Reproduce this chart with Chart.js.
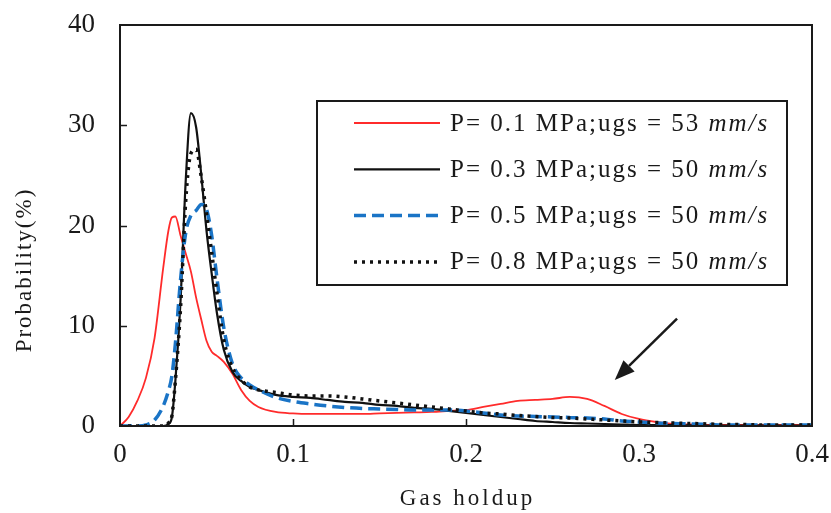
<!DOCTYPE html>
<html>
<head>
<meta charset="utf-8">
<script src="https://cdn.jsdelivr.net/npm/chart.js@4.4.1/dist/chart.umd.min.js"></script>
<style>
  html, body { margin: 0; padding: 0; background: #fff; }
  canvas { display: block; }
</style>
</head>
<body>
<canvas id="pdf" width="831" height="513"></canvas>
<script>
// Gas holdup grid (x) shared by all four distributions
const holdup = [0, 0.005, 0.01, 0.015, 0.02, 0.025, 0.028, 0.03, 0.032, 0.035, 0.038, 0.041, 0.044,
  0.047, 0.05, 0.053, 0.056, 0.06, 0.065, 0.07, 0.075, 0.08, 0.09, 0.1, 0.11, 0.12, 0.13, 0.14,
  0.15, 0.16, 0.17, 0.18, 0.19, 0.2, 0.21, 0.22, 0.23, 0.24, 0.25, 0.26, 0.27, 0.28, 0.29, 0.3,
  0.31, 0.32, 0.33, 0.34, 0.35, 0.36, 0.37, 0.38, 0.39, 0.4];

// Probability (%) for each operating pressure
const prob01 = [0, 0.9, 2.5, 4.8, 8.8, 15.8, 19.5, 20.8, 20.9, 19.0, 17.2, 15.4, 12.8,
  10.6, 8.5, 7.4, 7.0, 6.4, 5.2, 3.6, 2.5, 1.9, 1.4, 1.25, 1.2, 1.2, 1.2, 1.2,
  1.25, 1.3, 1.35, 1.4, 1.5, 1.6, 1.9, 2.2, 2.5, 2.6, 2.7, 2.9, 2.7, 2.0, 1.2, 0.7,
  0.4, 0.2, 0.15, 0.1, 0.1, 0.1, 0.1, 0.1, 0.1, 0.1];
const prob03 = [0, 0, 0, 0, 0, 0, 0.2, 0.9, 4.5, 12.5, 24.5, 31.2, 29.8,
  25.0, 19.5, 15.2, 11.3, 7.6, 5.4, 4.5, 3.9, 3.6, 3.1, 2.9, 2.8, 2.6, 2.4, 2.3,
  2.1, 2.0, 1.8, 1.7, 1.5, 1.3, 1.1, 0.9, 0.7, 0.5, 0.4, 0.3, 0.25, 0.2, 0.15, 0.1,
  0.1, 0.08, 0.06, 0.05, 0.05, 0.05, 0.05, 0.05, 0.05, 0.05];
const prob05 = [0, 0, 0, 0.1, 0.6, 2.0, 3.5, 5.0, 8.2, 14.6, 19.3, 21.0, 21.5,
  22.1, 21.6, 19.0, 14.8, 9.8, 6.2, 4.8, 4.1, 3.6, 2.85, 2.45, 2.2, 2.0, 1.85, 1.75,
  1.7, 1.65, 1.6, 1.6, 1.6, 1.5, 1.3, 1.1, 1.0, 0.95, 0.9, 0.85, 0.8, 0.7, 0.5, 0.4,
  0.3, 0.25, 0.2, 0.15, 0.1, 0.1, 0.1, 0.1, 0.1, 0.1];
const prob08 = [0, 0, 0, 0, 0, 0, 0.3, 1.0, 4.5, 11.8, 22.5, 27.2, 27.6,
  24.8, 21.2, 17.3, 13.3, 8.6, 5.8, 4.6, 3.9, 3.6, 3.35, 3.1, 3.0, 3.0, 2.9, 2.7,
  2.5, 2.3, 2.1, 1.9, 1.7, 1.5, 1.3, 1.2, 1.05, 0.95, 0.85, 0.8, 0.7, 0.6, 0.5, 0.4,
  0.35, 0.3, 0.25, 0.2, 0.15, 0.15, 0.1, 0.1, 0.1, 0.1];

const seriesNames = ['P= 0.1 MPa;ugs = 53 ', 'P= 0.3 MPa;ugs = 50 ', 'P= 0.5 MPa;ugs = 50 ', 'P= 0.8 MPa;ugs = 50 '];
const seriesUnit = 'mm/s';

const xTickValues = [0, 0.1, 0.2, 0.3, 0.4];
const yTickValues = [0, 10, 20, 30, 40];

const xTitle = 'Gas holdup';
const yTitle = 'Probability(%)';

// Arrow pointing at the secondary peak, in data units
const arrowTail = { x: 0.322, y: 10.7 };
const arrowHead = { x: 0.286, y: 4.6 };

const SERIF = '"Liberation Serif", "Times New Roman", serif';
const INK = '#1a1a1a';

const toPoints = (ys) => holdup.map((x, i) => ({ x, y: ys[i] }));

const styles = [
  { borderColor: '#ff2b2b', borderWidth: 1.8, borderDash: [], order: 3 },
  { borderColor: '#111111', borderWidth: 2.2, borderDash: [], order: 2 },
  { borderColor: '#1a74c6', borderWidth: 3.5, borderDash: [12, 6], order: 1 },
  { borderColor: '#111111', borderWidth: 3.5, borderDash: [3, 5], order: 0 }
];
const values = [prob01, prob03, prob05, prob08];

const datasets = values.map((ys, i) => ({
  label: seriesNames[i] + seriesUnit,
  data: toPoints(ys),
  borderColor: styles[i].borderColor,
  borderWidth: styles[i].borderWidth,
  borderDash: styles[i].borderDash,
  order: styles[i].order,
  pointRadius: 0,
  fill: false,
  cubicInterpolationMode: 'monotone'
}));

// Frame, inward tick marks, axis titles, legend box and arrow
const decorations = {
  id: 'decorations',
  afterDatasetsDraw(chart) {
    const { ctx, chartArea: a, scales: { x, y } } = chart;
    ctx.save();
    ctx.strokeStyle = INK;
    ctx.lineWidth = 2;
    ctx.strokeRect(a.left, a.top, a.right - a.left, a.bottom - a.top);
    ctx.beginPath();
    yTickValues.slice(1, -1).forEach(v => {
      const py = Math.round(y.getPixelForValue(v)) + 0.5;
      ctx.moveTo(a.left, py); ctx.lineTo(a.left + 7, py);
    });
    xTickValues.slice(1, -1).forEach(v => {
      const px = Math.round(x.getPixelForValue(v)) + 0.5;
      ctx.moveTo(px, a.bottom); ctx.lineTo(px, a.bottom - 7);
    });
    ctx.lineWidth = 1.5;
    ctx.stroke();

    // arrow
    const tx = x.getPixelForValue(arrowTail.x), ty = y.getPixelForValue(arrowTail.y);
    const hx = x.getPixelForValue(arrowHead.x), hy = y.getPixelForValue(arrowHead.y);
    const ang = Math.atan2(hy - ty, hx - tx);
    const len = 20, half = 8;
    const bx = hx - len * Math.cos(ang), by = hy - len * Math.sin(ang);
    ctx.beginPath();
    ctx.moveTo(tx, ty); ctx.lineTo(bx, by);
    ctx.lineWidth = 2.5;
    ctx.stroke();
    ctx.beginPath();
    ctx.moveTo(hx, hy);
    ctx.lineTo(bx + half * Math.sin(ang), by - half * Math.cos(ang));
    ctx.lineTo(bx - half * Math.sin(ang), by + half * Math.cos(ang));
    ctx.closePath();
    ctx.fillStyle = INK;
    ctx.fill();
    ctx.restore();
  },
  afterDraw(chart) {
    const { ctx, chartArea: a } = chart;
    ctx.save();
    ctx.fillStyle = INK;
    ctx.textBaseline = 'middle';
    ctx.textAlign = 'center';

    // x title
    ctx.font = '23px ' + SERIF;
    ctx.letterSpacing = '3px';
    ctx.fillText(xTitle, (a.left + a.right) / 2 + 1.5, a.bottom + 73);

    // y title
    ctx.save();
    ctx.translate(25, a.top + 245);
    ctx.rotate(-Math.PI / 2);
    ctx.letterSpacing = '2px';
    ctx.fillText(yTitle, 0, 0);
    ctx.restore();

    // legend
    const lx = a.left + 197, ly = a.top + 76, lw = 470, lh = 184;
    ctx.fillStyle = '#fff';
    ctx.fillRect(lx, ly, lw, lh);
    ctx.strokeStyle = INK;
    ctx.lineWidth = 2;
    ctx.strokeRect(lx, ly, lw, lh);
    ctx.textAlign = 'left';
    chart.data.datasets.forEach((ds, i) => {
      const ry = ly + 22 + i * 46.3;
      ctx.beginPath();
      ctx.setLineDash(ds.borderDash);
      ctx.strokeStyle = ds.borderColor;
      ctx.lineWidth = ds.borderWidth;
      ctx.moveTo(lx + 37, ry); ctx.lineTo(lx + 123, ry);
      ctx.stroke();
      ctx.setLineDash([]);
      ctx.fillStyle = INK;
      ctx.letterSpacing = '2px';
      ctx.font = '25px ' + SERIF;
      const tx = lx + 133;
      ctx.fillText(seriesNames[i], tx, ry + 1);
      const w = ctx.measureText(seriesNames[i]).width;
      ctx.font = 'italic 25px ' + SERIF;
      ctx.fillText(seriesUnit, tx + w, ry + 1);
    });
    ctx.restore();
  }
};

new Chart(document.getElementById('pdf'), {
  type: 'line',
  data: { datasets },
  options: {
    responsive: false,
    animation: false,
    devicePixelRatio: 1,
    layout: { padding: { top: 25, right: 19, bottom: 0, left: 0 } },
    plugins: { legend: { display: false }, tooltip: { enabled: false } },
    scales: {
      x: {
        type: 'linear',
        min: 0, max: 0.4,
        afterBuildTicks: (s) => { s.ticks = xTickValues.map(v => ({ value: v })); },
        afterFit: (s) => { s.height = 87; s.paddingLeft = 0; s.paddingRight = 0; },
        grid: { display: false, drawTicks: false },
        border: { display: false },
        ticks: {
          padding: 13,
          color: INK,
          font: { family: SERIF, size: 27 },
          maxRotation: 0,
          callback: (v) => String(v)
        },
        title: { display: false, text: xTitle }
      },
      y: {
        type: 'linear',
        min: 0, max: 40,
        afterBuildTicks: (s) => { s.ticks = yTickValues.map(v => ({ value: v })); },
        afterFit: (s) => { s.width = 120; s.paddingTop = 0; s.paddingBottom = 0; },
        grid: { display: false, drawTicks: false },
        border: { display: false },
        ticks: {
          padding: 25,
          color: INK,
          font: { family: SERIF, size: 27 },
          callback: (v) => String(v)
        },
        title: { display: false, text: yTitle }
      }
    }
  },
  plugins: [decorations]
});
</script>
</body>
</html>
